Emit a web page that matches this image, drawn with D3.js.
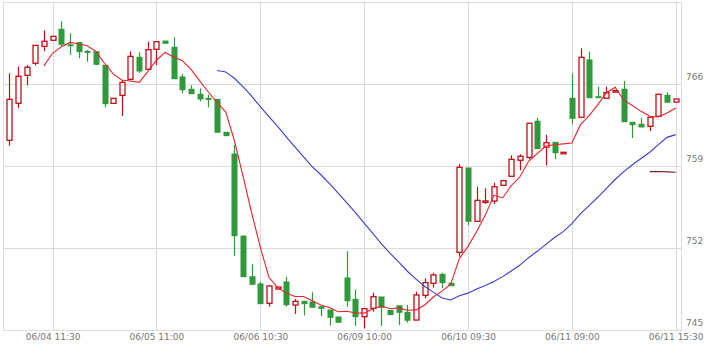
<!DOCTYPE html>
<html><head><meta charset="utf-8">
<script src="https://cdn.jsdelivr.net/npm/d3@7"></script>
<style>body{margin:0;background:#fff}svg{display:block}</style>
</head><body><svg id="c" width="719" height="352"></svg>
<script>
// ---- data ----
const opens = [761.19,764.35,766.74,767.77,769.22,769.73,770.67,769.35,769.53,768.78,
768.76,767.60,764.35,765.03,766.40,768.28,767.26,768.96,769.67,769.13,
766.60,765.55,765.12,764.77,764.69,761.88,760.02,753.02,749.55,748.93,
747.28,748.50,749.10,747.13,747.45,747.39,746.99,746.71,746.11,749.44,
747.62,746.14,746.85,747.82,746.68,747.07,746.51,745.85,747.96,748.99,
749.75,748.99,751.63,758.83,754.28,756.00,756.01,757.35,758.12,759.49,
759.74,762.82,760.60,761.02,760.16,764.78,763.16,768.05,764.92,764.78,
765.42,765.55,762.73,762.56,762.39,763.24,765.03,764.46];
const highs = [766.91,767.48,767.62,769.30,770.58,770.07,771.35,770.33,769.53,768.90,
768.76,767.60,764.78,766.34,768.79,768.71,769.61,769.61,769.67,769.99,
766.85,765.89,765.63,765.09,764.69,761.88,760.79,753.02,750.61,749.12,
748.76,748.67,749.55,747.65,747.45,748.22,746.99,746.71,746.11,751.72,
748.47,746.82,748.18,747.82,746.68,747.07,747.13,748.27,749.41,749.89,
749.89,748.99,759.15,758.83,757.23,757.10,757.57,757.75,759.91,760.00,
762.65,763.12,761.67,761.02,760.17,766.91,769.05,768.76,765.77,765.77,
765.43,766.26,762.73,763.12,763.16,765.12,765.29,764.72];
const lows = [760.73,763.93,765.89,767.60,768.79,769.73,769.24,768.48,768.19,767.90,
767.60,764.01,764.35,763.27,766.40,766.96,767.26,767.62,769.47,766.45,
765.21,765.17,764.52,764.01,761.88,761.59,751.32,749.55,748.90,747.25,
746.99,748.50,746.99,746.37,746.25,746.94,746.20,745.37,745.66,746.99,
745.34,745.14,746.56,745.34,746.31,745.43,745.62,745.85,747.71,748.61,
748.56,748.78,751.26,753.94,754.28,755.76,755.76,757.35,758.12,758.63,
759.57,760.48,759.06,759.57,760.16,762.56,763.16,764.83,764.83,764.78,
765.42,762.78,761.39,762.33,761.99,763.24,764.44,764.46];
const closes = [764.69,766.66,767.43,769.30,769.65,770.07,769.39,769.33,768.76,768.76,
767.68,764.32,764.78,766.14,768.36,767.11,768.93,769.61,769.47,766.45,
765.51,765.17,764.72,764.75,761.88,761.59,753.05,749.55,748.90,747.25,
748.76,748.67,747.16,747.45,747.25,746.94,746.85,746.08,745.66,747.50,
746.14,746.82,747.84,746.94,746.31,746.51,745.83,747.99,749.04,749.70,
749.04,748.78,758.89,754.28,756.07,756.02,757.23,757.75,759.57,759.83,
762.65,760.48,760.99,760.14,760.17,763.07,768.28,764.83,764.83,765.26,
765.43,762.78,762.53,762.33,763.16,765.12,764.44,764.72];
const tickIndex = [5,17,29,41,53,65,77];
const tickLabels = ["06/04 11:30","06/05 11:00","06/06 10:30","06/09 10:00","06/10 09:30","06/11 09:00","06/11 15:30"];
const yTicks = [745,752,759,766];
const yDomain = [745,773];
const maPeriods = [5,25,75];
const maColors = ["#e8232b","#3b3bd6","#7a1c1c"];

// ---- chart ----
const svg = d3.select("#c");
const L = 3, R = 682, T = 2, B = 330;
const n = closes.length;
const x = d3.scalePoint().domain(d3.range(n)).range([9.3, 675.7]);
const y = d3.scaleLinear().domain(yDomain).range([B, T]);
const grid = "#dcdcdc";

// horizontal grid
svg.append("g").selectAll("line").data(yTicks.filter(v=>v>yDomain[0]))
  .join("line").attr("x1",L).attr("x2",R)
  .attr("y1",d=>Math.round(y(d))+0.5).attr("y2",d=>Math.round(y(d))+0.5)
  .attr("stroke",grid);
// vertical grid
svg.append("g").selectAll("line").data(tickIndex)
  .join("line").attr("y1",T).attr("y2",B)
  .attr("x1",d=>Math.round(x(d))+0.5).attr("x2",d=>Math.round(x(d))+0.5)
  .attr("stroke",grid);
// frame
svg.append("rect").attr("x",L+0.5).attr("y",T+0.5).attr("width",R-L-1).attr("height",B-T)
  .attr("fill","none").attr("stroke",grid);

// axes text
const yAxis = d3.axisRight(y).tickValues(yTicks).tickSize(0).tickPadding(0);
const ga = svg.append("g").attr("transform",`translate(${R+4},0)`).call(yAxis);
ga.select(".domain").remove();
ga.selectAll("text").attr("dy","-0.45em").attr("fill","#777")
  .attr("font-family","DejaVu Sans, Verdana, sans-serif").attr("font-size",9);

const xAxis = d3.axisBottom(x).tickValues(tickIndex).tickSize(0).tickPadding(0)
  .tickFormat((d,i)=>tickLabels[i]);
const gx = svg.append("g").attr("transform",`translate(0,${B+4})`).call(xAxis);
gx.select(".domain").remove();
gx.selectAll("text").attr("fill","#777")
  .attr("font-family","DejaVu Sans, Verdana, sans-serif").attr("font-size",9);

// candles
const upC = "#c40e16", dnC = "#2f9a3b";
const bw = 6;
const data = d3.range(n).map(i=>({i,o:opens[i],h:highs[i],l:lows[i],c:closes[i]}));
const gc = svg.append("g");
const cg = gc.selectAll("g").data(data).join("g");
cg.append("line")
  .attr("x1",d=>Math.round(x(d.i))+0.5).attr("x2",d=>Math.round(x(d.i))+0.5)
  .attr("y1",d=>y(d.h)).attr("y2",d=>y(d.l))
  .attr("stroke",d=>d.c>=d.o?upC:dnC).attr("stroke-width",1.2);
cg.each(function(d){
  const g = d3.select(this);
  const cx = Math.round(x(d.i))+0.5;
  const top = y(Math.max(d.o,d.c)), bot = y(Math.min(d.o,d.c));
  if (d.c>=d.o){
    g.append("rect").attr("x",cx-bw/2+0.5).attr("width",bw-1)
      .attr("y",top).attr("height",Math.max(bot-top,1.5))
      .attr("fill","#fff").attr("stroke",upC).attr("stroke-width",1.3);
  } else {
    g.append("rect").attr("x",cx-bw/2).attr("width",bw)
      .attr("y",top-0.5).attr("height",Math.max(bot-top+1,2))
      .attr("fill",dnC);
  }
});

// moving averages
maPeriods.forEach((p,k)=>{
  const pts = d3.range(n).map(i=> i<p-1 ? null : {i, v:d3.mean(closes.slice(i-p+1,i+1))});
  const line = d3.line().defined(d=>d!==null).x(d=>x(d.i)).y(d=>y(d.v)).curve(d3.curveLinear);
  svg.append("path").datum(pts).attr("d",line).attr("fill","none")
    .attr("stroke",maColors[k]).attr("stroke-width",1.1);
});
</script></body></html>
